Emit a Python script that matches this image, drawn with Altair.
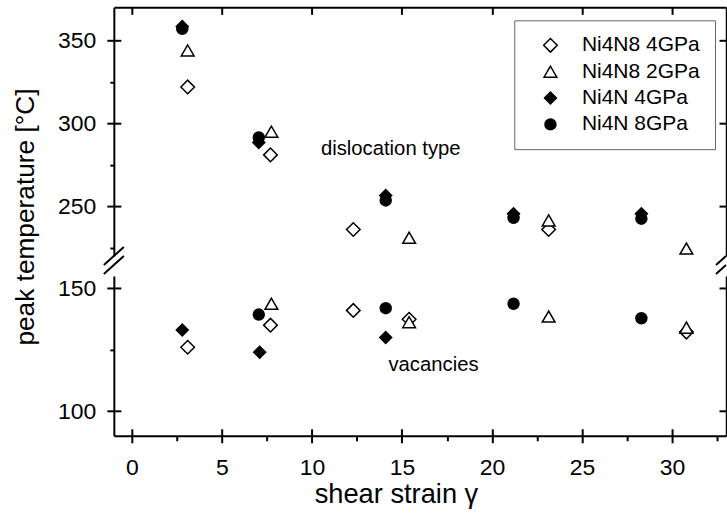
import altair as alt
import pandas as pd

FONT = "Liberation Sans"

# Series, in legend order, with their marker styles
samples = ["Ni4N8 4GPa", "Ni4N8 2GPa", "Ni4N 4GPa", "Ni4N 8GPa"]
marker_shapes = ["diamond", "triangle-up", "diamond", "circle"]
marker_fills = ["white", "white", "black", "black"]
marker_sizes = [185, 120, 200, 185]

# Dislocation-type peaks (upper segment): shear strain and peak temperature [°C]
disl_gamma_ni4n8_4 = [3.1, 7.7, 12.3, 23.15]
disl_temp_ni4n8_4 = [322, 281, 236, 236]
disl_gamma_ni4n8_2 = [3.1, 7.75, 15.4, 23.15, 30.8]
disl_temp_ni4n8_2 = [344, 295, 231, 241.5, 224.5]
disl_gamma_ni4n_4 = [2.8, 7.05, 14.1, 21.2, 28.3]
disl_temp_ni4n_4 = [358.5, 288.5, 256.5, 245.5, 245.5]
disl_gamma_ni4n_8 = [2.8, 7.05, 14.1, 21.2, 28.3]
disl_temp_ni4n_8 = [357, 291.5, 253.5, 243, 242.5]

# Vacancy peaks (lower segment)
vac_gamma_ni4n8_4 = [3.1, 7.7, 12.3, 15.4, 30.8]
vac_temp_ni4n8_4 = [126, 135, 141, 137.4, 132.2]
vac_gamma_ni4n8_2 = [7.75, 15.4, 23.15, 30.8]
vac_temp_ni4n8_2 = [143.7, 136.2, 138.5, 134]
vac_gamma_ni4n_4 = [2.8, 7.1, 14.1]
vac_temp_ni4n_4 = [133, 124, 130]
vac_gamma_ni4n_8 = [7.05, 14.1, 21.2, 28.3]
vac_temp_ni4n_8 = [139.3, 141.9, 143.7, 137.8]

# Tick positions
x_major = [0, 5, 10, 15, 20, 25, 30]
x_minor = [2.5, 7.5, 12.5, 17.5, 22.5, 27.5, 32.5]
upper_major = [250, 300, 350]
upper_minor = [225, 275, 325]
lower_major = [100, 150]
lower_minor = [125]

# Annotations
upper_note = pd.DataFrame({"gamma": [10.5], "temp": [284.5], "note": ["dislocation type"]})
lower_note = pd.DataFrame({"gamma": [14.25], "temp": [118.7], "note": ["vacancies"]})

# Layout
X_DOMAIN = [-1, 33]
UPPER_DOMAIN = [220, 370]
LOWER_DOMAIN = [90, 155]
WIDTH = 613
UPPER_H = 249
LOWER_H = 160
GAP = 20
TICK = 7


def frame(gammas, temps):
    rows = []
    for name, gs, ts in zip(samples, gammas, temps):
        for g, t in zip(gs, ts):
            rows.append({"sample": name, "gamma": g, "temp": t})
    return pd.DataFrame(rows)


upper_df = frame(
    [disl_gamma_ni4n8_4, disl_gamma_ni4n8_2, disl_gamma_ni4n_4, disl_gamma_ni4n_8],
    [disl_temp_ni4n8_4, disl_temp_ni4n8_2, disl_temp_ni4n_4, disl_temp_ni4n_8],
)
lower_df = frame(
    [vac_gamma_ni4n8_4, vac_gamma_ni4n8_2, vac_gamma_ni4n_4, vac_gamma_ni4n_8],
    [vac_temp_ni4n8_4, vac_temp_ni4n8_2, vac_temp_ni4n_4, vac_temp_ni4n_8],
)

# Axis-break slashes in the gap between the two segments (lower segment units)
px_x = WIDTH / (X_DOMAIN[1] - X_DOMAIN[0])
px_y = LOWER_H / (LOWER_DOMAIN[1] - LOWER_DOMAIN[0])
half_w = 10 / px_x
half_h = 9 / px_y
slash_rows = []
for above in (20, 11):
    c = LOWER_DOMAIN[1] + above / px_y
    slash_rows.append({"gamma": X_DOMAIN[0] - half_w, "temp": c - half_h,
                       "gamma2": X_DOMAIN[0] + half_w, "temp2": c + half_h})
    slash_rows.append({"gamma": X_DOMAIN[1] - half_w, "temp": c - half_h,
                       "gamma2": X_DOMAIN[1], "temp2": c})
slashes = pd.DataFrame(slash_rows)


def axis(orient, values=None, domain=False, ticks=True, size=TICK, offset=0, labels=False, **extra):
    props = dict(orient=orient, domain=domain, ticks=ticks, labels=labels, grid=False,
                 title=None, offset=offset, tickSize=size)
    if values is not None:
        props["values"] = values
    props.update(extra)
    return alt.Axis(**props)


def xenc(ax=None):
    return alt.X("gamma:Q", scale=alt.Scale(domain=X_DOMAIN, nice=False, zero=False), axis=ax)


def yenc(dom, ax=None):
    return alt.Y("temp:Q", scale=alt.Scale(domain=dom, nice=False, zero=False), axis=ax)


def guide(df, dom, x_axis=None, y_axis=None):
    return alt.Chart(df).mark_point(opacity=0).encode(x=xenc(x_axis), y=yenc(dom, y_axis))


def points(df, dom, x_axis, y_axis, legend):
    return alt.Chart(df).mark_point(filled=True, stroke="black", strokeWidth=1.5, opacity=1).encode(
        x=xenc(x_axis),
        y=yenc(dom, y_axis),
        shape=alt.Shape("sample:N", scale=alt.Scale(domain=samples, range=marker_shapes), legend=legend),
        fill=alt.Fill("sample:N", scale=alt.Scale(domain=samples, range=marker_fills), legend=legend),
        stroke=alt.Stroke("sample:N", scale=alt.Scale(domain=samples, range=["black"] * 4), legend=legend),
        size=alt.Size("sample:N", scale=alt.Scale(domain=samples, range=marker_sizes), legend=legend),
    )


def note(df, dom, size):
    return alt.Chart(df).mark_text(align="left", baseline="middle", font=FONT, fontSize=size,
                                   color="black").encode(x=xenc(), y=yenc(dom), text="note:N")


legend = alt.Legend(
    title=None, orient="none", legendX=401, legendY=13, padding=14.5,
    strokeColor="#666666", fillColor="white",
    labelFont=FONT, labelFontSize=21, labelColor="black", labelOffset=21,
    symbolStrokeColor="black", symbolStrokeWidth=1.5, symbolOffset=11.2, rowPadding=4.4,
)

upper = alt.layer(
    points(upper_df, UPPER_DOMAIN,
           axis("top", domain=True, ticks=False),
           axis("left", upper_major, domain=True, labels=True, labelPadding=11),
           legend),
    guide(upper_df, UPPER_DOMAIN,
          axis("top", x_major, offset=-TICK),
          axis("left", upper_major, offset=-TICK)),
    guide(upper_df, UPPER_DOMAIN, None, axis("left", upper_minor, size=4)),
    guide(upper_df, UPPER_DOMAIN, None, axis("right", domain=True, ticks=False, domainWidth=1.5)),
    guide(upper_df, UPPER_DOMAIN, None, axis("right", upper_major, offset=-TICK)),
    note(upper_note, UPPER_DOMAIN, 20.3),
).resolve_axis(x="independent", y="independent").properties(width=WIDTH, height=UPPER_H)

lower = alt.layer(
    points(lower_df, LOWER_DOMAIN,
           axis("bottom", x_major, domain=True, labels=True, labelPadding=32,
                labelBaseline="alphabetic", title="shear strain γ", titleFontSize=27.3,
                titleX=282.5, titleY=67, titleBaseline="alphabetic", titleAlign="center"),
           axis("left", lower_major, domain=True, labels=True, labelPadding=11,
                title="peak temperature [°C]", titleFontSize=26.3, titleX=-80.3, titleY=-59.5,
                titleBaseline="alphabetic", titleAlign="center", titleAngle=270),
           None),
    guide(lower_df, LOWER_DOMAIN,
          axis("bottom", x_major, offset=-TICK),
          axis("left", lower_major, offset=-TICK)),
    guide(lower_df, LOWER_DOMAIN,
          axis("bottom", x_minor, size=5),
          axis("left", lower_minor, size=4)),
    guide(lower_df, LOWER_DOMAIN, None, axis("right", domain=True, ticks=False, domainWidth=1.5)),
    guide(lower_df, LOWER_DOMAIN, None, axis("right", lower_major, offset=-TICK)),
    note(lower_note, LOWER_DOMAIN, 20.3),
    alt.Chart(slashes).mark_rule(color="black", strokeWidth=2).encode(
        x=xenc(), y=yenc(LOWER_DOMAIN),
        x2=alt.X2("gamma2:Q"), y2=alt.Y2("temp2:Q"),
    ),
).resolve_axis(x="independent", y="independent").properties(width=WIDTH, height=LOWER_H)

chart = (
    alt.vconcat(upper, lower, spacing=GAP, bounds="flush")
    .resolve_scale(y="independent", shape="independent", fill="independent",
                   stroke="independent", size="independent")
    .resolve_legend(shape="independent", fill="independent", stroke="independent", size="independent")
    .properties(padding={"left": 12, "top": 6, "right": 0, "bottom": 14}, background="white")
    .configure_view(stroke=None)
    .configure_axis(
        domainColor="black", domainWidth=2, tickColor="black", tickWidth=2,
        labelFont=FONT, labelFontSize=23, labelColor="black",
        titleFont=FONT, titleFontSize=26.5, titleColor="black", titleFontWeight="normal",
        labelOverlap=False,
    )
)

chart.save("out.html", embed_options={"renderer": "svg", "actions": False})
